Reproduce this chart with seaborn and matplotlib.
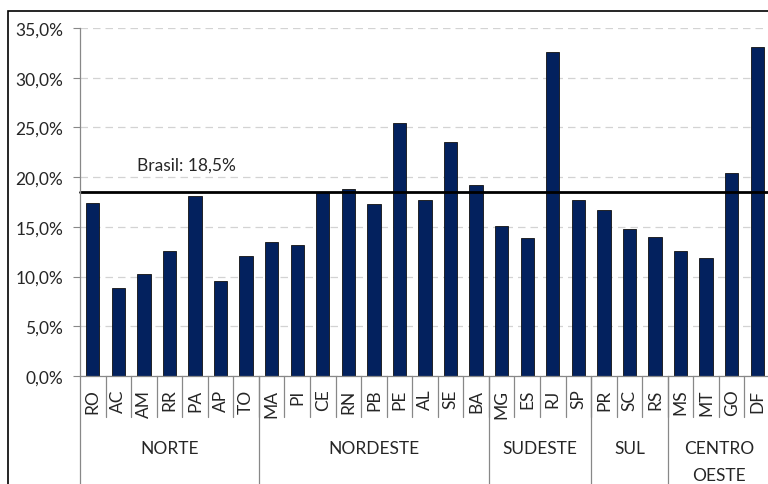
import matplotlib
matplotlib.use("Agg")
import matplotlib.pyplot as plt
import matplotlib.transforms as mtransforms
from matplotlib.patches import Rectangle
import pandas as pd
import seaborn as sns

# data
states = ['RO', 'AC', 'AM', 'RR', 'PA', 'AP', 'TO',
          'MA', 'PI', 'CE', 'RN', 'PB', 'PE', 'AL', 'SE', 'BA',
          'MG', 'ES', 'RJ', 'SP',
          'PR', 'SC', 'RS',
          'MS', 'MT', 'GO', 'DF']
values = [17.4, 8.9, 10.3, 12.6, 18.1, 9.6, 12.1,
          13.5, 13.2, 18.5, 18.8, 17.3, 25.4, 17.7, 23.5, 19.2,
          15.1, 13.9, 32.6, 17.7,
          16.7, 14.8, 14.0,
          12.6, 11.9, 20.4, 33.1]
regions = ['NORTE', 'NORDESTE', 'SUDESTE', 'SUL', 'CENTRO\nOESTE']
region_sizes = [7, 9, 4, 3, 4]
brasil = 18.5

sns.set_style("white")
plt.rcParams['font.family'] = ['Lato', 'DejaVu Sans']
fs = 12.5

df = pd.DataFrame({'estado': states, 'valor': values})

fig = plt.figure(figsize=(7.68, 4.85), dpi=100)
ax = fig.add_axes([80 / 768, 1 - 377 / 485, 690 / 768, 348 / 485])

sns.barplot(data=df, x='estado', y='valor', color='#03215e', width=0.52,
            edgecolor='#111111', linewidth=0.6, saturation=1, ax=ax)

ax.set_ylim(0, 35)
ax.set_xlim(-0.5, len(states) - 0.5)
ax.set_yticks(range(0, 36, 5))
ax.set_yticklabels([f'{v},0%' for v in range(0, 36, 5)], fontsize=fs)
ax.yaxis.grid(True, linestyle=(0, (6, 4)), color='#d3d3d3', linewidth=0.9)
ax.set_axisbelow(True)
ax.tick_params(axis='y', length=5, color='#888888', left=True, pad=7)
ax.set_xticks([])
ax.set_xlabel('')
ax.set_ylabel('')
for s in ['top', 'right']:
    ax.spines[s].set_visible(False)
for s in ['left', 'bottom']:
    ax.spines[s].set_color('#888888')
    ax.spines[s].set_linewidth(0.9)

# reference line
ax.axhline(brasil, color='black', linewidth=2, clip_on=False)
ax.text(3.68, brasil + 2.25, 'Brasil: 18,5%', fontsize=fs, ha='center',
        va='baseline')

# two-level category axis
trans = mtransforms.blended_transform_factory(ax.transData, ax.transAxes)
for i, st in enumerate(states):
    ax.text(i, -0.036, st, rotation=90, ha='center', va='top',
            fontsize=fs, transform=trans)
    if i > 0:
        ax.plot([i - 0.5, i - 0.5], [0, -0.118], color='#888888', lw=0.9,
                transform=trans, clip_on=False)

start = 0
for name, size in zip(regions, region_sizes):
    ax.plot([start - 0.5, start - 0.5], [0, -0.32], color='#888888', lw=0.9,
            transform=trans, clip_on=False)
    ax.text(start + size / 2 - 0.5, -0.246 if '\n' in name else -0.207, name,
            ha='center', va='center', fontsize=fs, linespacing=1.8,
            transform=trans)
    start += size

# outer chart border
fig.patches.append(Rectangle((8 / 768, -0.1), 1.2, 1 - 12 / 485 + 0.1,
                             transform=fig.transFigure, fill=False,
                             edgecolor='black', linewidth=1.2))

fig.savefig('out.png', dpi=100)
